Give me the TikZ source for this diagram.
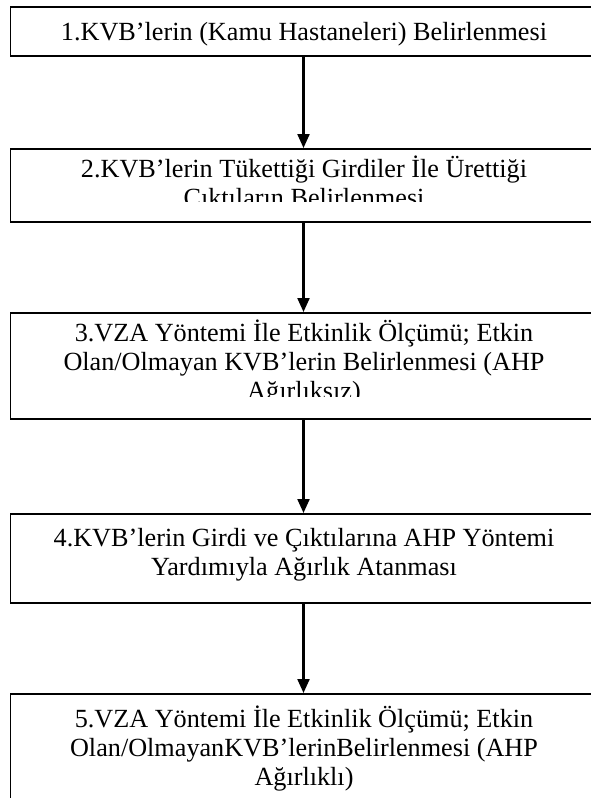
\documentclass[tikz,border=0pt]{standalone}
\usepackage{fontspec}
\setmainfont{Liberation Serif}
\usetikzlibrary{arrows.meta}
\newcommand{\lnst}{\rule{0pt}{21pt}}
\tikzset{
  boxst/.style={draw, line width=1.7pt, minimum width=586pt, inner sep=0pt, anchor=north},
  txtst/.style={anchor=north, inner sep=0pt, align=center, font=\fontsize{26.2}{29}\selectfont},
  arr/.style={line width=2.2pt, -{Triangle[width=12pt,length=14pt]}}
}
\begin{document}
\begin{tikzpicture}[x=1pt,y=-1pt]
\useasboundingbox (0,0) rectangle (590,798);
% boxes
\node[boxst, minimum height=49pt] (b1) at (303.5,6) {};
\node[boxst, minimum height=73pt] (b2) at (303.5,148) {};
\node[boxst, minimum height=106pt] (b3) at (303.5,312) {};
\node[boxst, minimum height=89pt] (b4) at (303.5,513) {};
\node[boxst, minimum height=150pt] (b5) at (303.5,693) {};
% texts
\node[txtst] (t1) at (304,19) {\lnst 1.KVB’lerin (Kamu Hastaneleri) Belirlenmesi};
\begin{scope}
\clip (10,148) rectangle (597,201);
\node[txtst] (t2) at (304,156) {\lnst 2.KVB’lerin Tükettiği Girdiler İle Ürettiği\\\lnst Çıktıların Belirlenmesi};
\end{scope}
\begin{scope}
\clip (10,312) rectangle (597,396.5);
\node[txtst] (t3) at (304,320) {\lnst 3.VZA Yöntemi İle Etkinlik Ölçümü; Etkin\\\lnst Olan/Olmayan KVB’lerin Belirlenmesi (AHP\\\lnst Ağırlıksız)};
\end{scope}
\node[txtst] (t4) at (304,525) {\lnst 4.KVB’lerin Girdi ve Çıktılarına AHP Yöntemi\\\lnst Yardımıyla Ağırlık Atanması};
\node[txtst] (t5) at (304,706) {\lnst 5.VZA Yöntemi İle Etkinlik Ölçümü; Etkin\\\lnst Olan/OlmayanKVB’lerinBelirlenmesi (AHP\\\lnst Ağırlıklı)};
% arrows
\draw[arr] (b1.south) -- (b2.north);
\draw[arr] (b2.south) -- (b3.north);
\draw[arr] (b3.south) -- (b4.north);
\draw[arr] (b4.south) -- (b5.north);
\end{tikzpicture}
\end{document}
